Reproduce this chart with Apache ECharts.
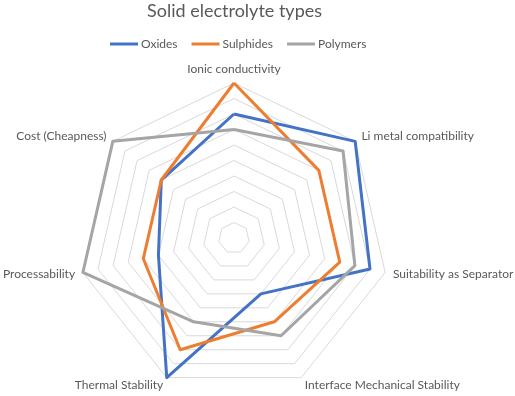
<!DOCTYPE html>
<html><head><meta charset="utf-8">
<script src="https://cdn.jsdelivr.net/npm/echarts@6/dist/echarts.min.js"></script>
<style>html,body{margin:0;padding:0;background:#fff}#c{width:515px;height:396px}</style>
</head><body><div id="c"></div>
<script>
const indicators = ['Ionic conductivity','Li metal compatibility','Suitability as Separator','Interface Mechanical Stability','Thermal Stability','Processability','Cost (Cheapness)'];
const oxides = [8,10,9,4,10,5,6];
const sulphides = [10,7,7,6,8,6,6];
const polymers = [7,9,8,7,6,10,10];
const seriesNames = ['Oxides','Sulphides','Polymers'];
const colors = ['#4472C4','#ED7D31','#A5A5A5'];
// ECharts places indicators counter-clockwise; reorder so they run clockwise like the reference
const order = [0,6,5,4,3,2,1];
const reorder = arr => order.map(i => arr[i]);
const font = 'Lato, "Open Sans", sans-serif';
const chart = echarts.init(document.getElementById('c'));
chart.setOption({
  animation: false,
  color: colors,
  title: {
    text: 'Solid electrolyte types',
    left: 142, top: -3,
    textStyle: {fontFamily: font, fontSize: 18, fontWeight: 'normal', color: '#595959'}
  },
  legend: {
    data: seriesNames,
    left: 105, top: 33,
    icon: 'rect', itemWidth: 28, itemHeight: 3, itemGap: 14,
    textStyle: {fontFamily: font, fontSize: 12, color: '#595959', padding: [0,0,0,-2]}
  },
  radar: {
    center: [234, 238],
    radius: 155,
    startAngle: 90,
    shape: 'polygon',
    splitNumber: 10,
    indicator: reorder(indicators).map(n => ({name: n, min: 0, max: 10})),
    axisName: {fontFamily: font, fontSize: 12, color: '#595959'},
    nameGap: 8,
    axisLine: {show: false},
    splitArea: {show: false},
    splitLine: {lineStyle: {color: '#D9D9D9', width: 1}}
  },
  series: [{
    type: 'radar',
    symbol: 'none',
    data: [
      {name: seriesNames[0], value: reorder(oxides), lineStyle: {width: 3, color: colors[0]}},
      {name: seriesNames[1], value: reorder(sulphides), lineStyle: {width: 3, color: colors[1]}},
      {name: seriesNames[2], value: reorder(polymers), lineStyle: {width: 3, color: colors[2]}}
    ]
  }]
});
</script></body></html>
